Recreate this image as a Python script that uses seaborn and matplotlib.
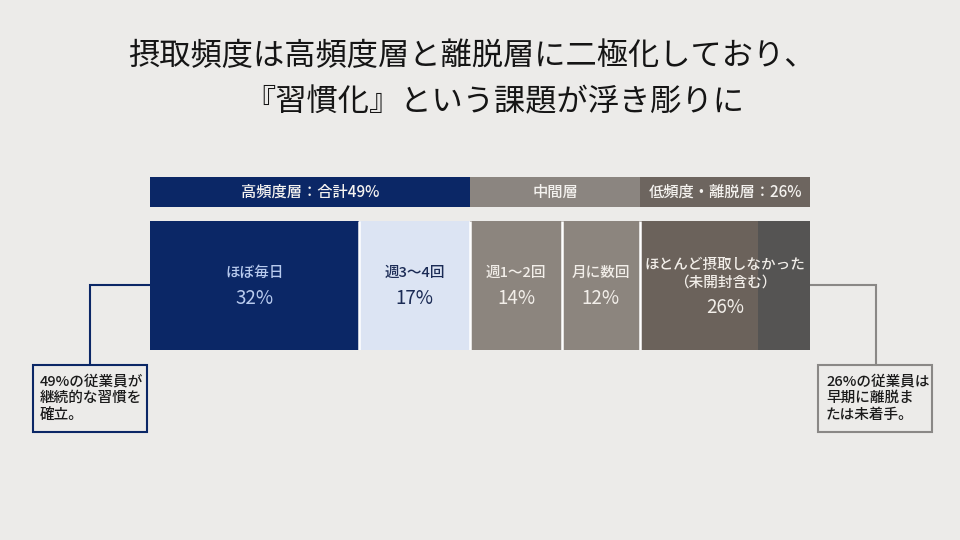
import matplotlib
matplotlib.use("Agg")
import matplotlib.pyplot as plt
from matplotlib.patches import Rectangle
import numpy as np
import seaborn as sns

sns.set_theme(style="white")
plt.rcParams['font.family'] = ['Noto Sans CJK JP', 'DejaVu Sans']

# Data
segment_labels = ["ほぼ毎日", "週3〜4回", "週1〜2回", "月に数回", "ほとんど摂取しなかった\n（未開封含む）"]
segment_values = [32, 17, 14, 12, 26]
segment_colors = ["#0b2766", "#dce4f3", "#8c857e", "#8c857e", "#6b625b"]
segment_text_colors = ["#b9cbee", "#1b2b55", "#f2eee9", "#f2eee9", "#f2eee9"]
dropout_shade = [18, 8]          # brown part / dark tail inside the last segment
dropout_dark = "#555453"

group_labels = ["高頻度層：合計49%", "中間層", "低頻度・離脱層：26%"]
group_sizes = [2, 2, 1]          # number of segments in each group
group_colors = ["#0b2766", "#8b8580", "#6d655f"]

title_lines = ["摂取頻度は高頻度層と離脱層に二極化しており、", "『習慣化』という課題が浮き彫りに"]
left_note = "49%の従業員が\n継続的な習慣を\n確立。"
right_note = "26%の従業員は\n早期に離脱ま\nたは未着手。"

BG = "#ecebe9"
NAVY = "#0b2766"
GRAY = "#8a8886"

fig = plt.figure(figsize=(9.6, 5.4), dpi=100, facecolor=BG)

# overlay axes in pixel units for connectors and notes
ov = fig.add_axes([0, 0, 1, 1], facecolor=BG)
ov.set_xlim(0, 960)
ov.set_ylim(540, 0)
ov.axis("off")

# bar axes
ax = fig.add_axes([150 / 960, 1 - 350 / 540, 660 / 960, 173 / 540])
ax.set_facecolor("none")
total = sum(segment_values)
ax.set_xlim(0, total)
ax.set_ylim(350, 177)
ax.axis("off")

vals = np.array(segment_values)
lefts = np.concatenate([[0], np.cumsum(vals)[:-1]])

# header bands
idx = np.concatenate([[0], np.cumsum(group_sizes)])
group_totals = [vals[idx[i]:idx[i + 1]].sum() for i in range(len(group_sizes))]
group_lefts = np.concatenate([[0], np.cumsum(group_totals)[:-1]])
ax.barh(192, group_totals, left=group_lefts, height=30, color=group_colors, edgecolor="none")
for lab, lft, w in zip(group_labels, group_lefts, group_totals):
    ax.text(lft + w / 2, 192.5, lab, ha="center", va="center", fontsize=11,
            fontweight="medium", color="#f4f2ef")

# main stacked bar
bar_mid, bar_h = 285.5, 129
ax.barh(bar_mid, vals, left=lefts, height=bar_h, color=segment_colors, edgecolor="none")
ax.barh(bar_mid, dropout_shade[1], left=lefts[-1] + dropout_shade[0], height=bar_h,
        color=dropout_dark, edgecolor="none")
ax.vlines(lefts[1:], bar_mid - bar_h / 2, bar_mid + bar_h / 2, color="white", lw=1.8)

for lab, v, lft, tc in zip(segment_labels, vals, lefts, segment_text_colors):
    cx = lft + v / 2
    if "\n" in lab:
        l1, l2 = lab.split("\n")
        ax.text(cx, 265, l1, ha="center", va="center", fontsize=10.5, fontweight="medium", color=tc)
        ax.text(cx, 283, l2, ha="center", va="center", fontsize=10.5, fontweight="medium", color=tc)
        ax.text(cx, 307, f"{v}%", ha="center", va="center", fontsize=13.5, color=tc)
    else:
        ax.text(cx, 273, lab, ha="center", va="center", fontsize=10.5, fontweight="medium", color=tc)
        ax.text(cx, 298, f"{v}%", ha="center", va="center", fontsize=13.5, color=tc)

# callouts
ov.plot([150, 90, 90], [285, 285, 365], color=NAVY, lw=1.5, solid_joinstyle="miter")
ov.add_patch(Rectangle((33, 365), 114, 67, facecolor=BG, edgecolor=NAVY, lw=1.5))
ov.text(40, 398, left_note, ha="left", va="center", fontsize=10.5, fontweight="medium",
        color="#1a1a1a", linespacing=1.25)

ov.plot([810, 876, 876], [285, 285, 365], color=GRAY, lw=1.5, solid_joinstyle="miter")
ov.add_patch(Rectangle((818, 365), 114, 67, facecolor=BG, edgecolor=GRAY, lw=1.5))
ov.text(826, 398, right_note, ha="left", va="center", fontsize=10.5, fontweight="medium",
        color="#1a1a1a", linespacing=1.25)

# title
fig.text(472 / 960, 1 - 56 / 540, title_lines[0], ha="center", va="center", fontsize=22.5,
         color="#151515")
fig.text(494 / 960, 1 - 102 / 540, title_lines[1], ha="center", va="center", fontsize=22.5,
         color="#151515")

fig.savefig("out.png", dpi=100, facecolor=BG)
